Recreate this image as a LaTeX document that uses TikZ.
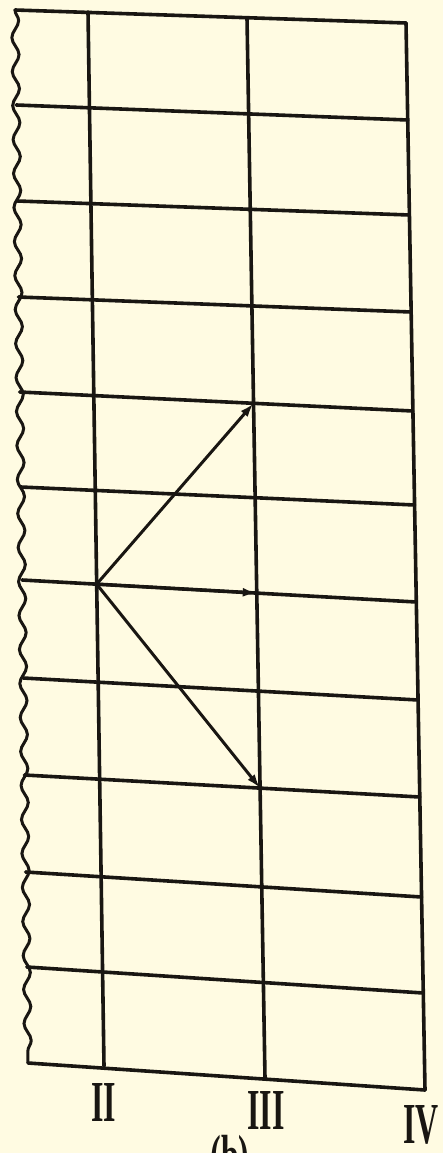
\documentclass[tikz,border=0pt]{standalone}
\usepackage{fontspec}
\setmainfont{Liberation Serif}
\usetikzlibrary{arrows.meta,decorations.pathmorphing,calc}
\definecolor{paper}{RGB}{255,251,226}
\definecolor{ink}{RGB}{25,22,18}
\begin{document}
\begin{tikzpicture}[x=1pt,y=-1pt,
  grid/.style={line width=3.6pt, draw=ink, line cap=round, line join=round},
  wavy/.style={line width=3pt, draw=ink, decorate, decoration={snake, amplitude=3.5pt, segment length=34pt}},
  vec/.style={line width=3pt, draw=ink, -{Latex[length=14pt,width=9pt]}},
  lab/.style={font=\fontsize{58}{58}\selectfont\bfseries, text=ink, inner sep=0pt, xscale=0.55}]
\fill[paper] (0,0) rectangle (443,1153);
\useasboundingbox (0,0) rectangle (443,1153);
% vertical lines
\coordinate (Lt) at (15,10);    \coordinate (Lb) at (28,1063);
\coordinate (IIt) at (88,12);   \coordinate (IIb) at (104,1066);
\coordinate (IIIt) at (247,18); \coordinate (IIIb) at (265,1078);
\coordinate (IVt) at (406,23);  \coordinate (IVb) at (425,1090);
% horizontal lines
\coordinate (h1l) at (15,10);     \coordinate (h1r) at (406,23);
\coordinate (h2l) at (16.2,105);  \coordinate (h2r) at (407.7,120);
\coordinate (h3l) at (17.4,201);  \coordinate (h3r) at (409.4,215);
\coordinate (h4l) at (18.5,297);  \coordinate (h4r) at (411.1,312);
\coordinate (h5l) at (19.7,392);  \coordinate (h5r) at (412.9,411);
\coordinate (h6l) at (20.9,487);  \coordinate (h6r) at (414.6,505);
\coordinate (h7l) at (22.0,580);  \coordinate (h7r) at (416.3,602);
\coordinate (h8l) at (23.2,678);  \coordinate (h8r) at (418.1,700);
\coordinate (h9l) at (24.4,775);  \coordinate (h9r) at (419.8,797);
\coordinate (h10l) at (25.6,872); \coordinate (h10r) at (421.6,897);
\coordinate (h11l) at (26.8,967); \coordinate (h11r) at (423.3,993);
\coordinate (h12l) at (28,1063);  \coordinate (h12r) at (425,1090);

\draw[wavy] (Lt) -- (Lb);
\draw[grid] (IIt) -- (IIb);
\draw[grid] (IIIt) -- (IIIb);
\draw[grid] (IVt) -- (IVb);
\foreach \i in {1,...,12} {\draw[grid] (h\i l) -- (h\i r);}

% vector points
\coordinate (O) at (intersection of IIt--IIb and h7l--h7r);
\coordinate (A) at (intersection of IIIt--IIIb and h5l--h5r);
\coordinate (B) at (intersection of IIIt--IIIb and h7l--h7r);
\coordinate (C) at (intersection of IIIt--IIIb and h9l--h9r);
\draw[vec] (O) -- (A);
\draw[vec] (O) -- (B);
\draw[vec] (O) -- (C);

% labels
\node[lab] (l2) at (104,1102) {II};
\node[lab] (l3) at (266,1110) {III};
\node[lab] (l4) at (421,1125) {IV};
\node[lab] (lb) at (230,1162) {(b)};
\end{tikzpicture}
\end{document}
